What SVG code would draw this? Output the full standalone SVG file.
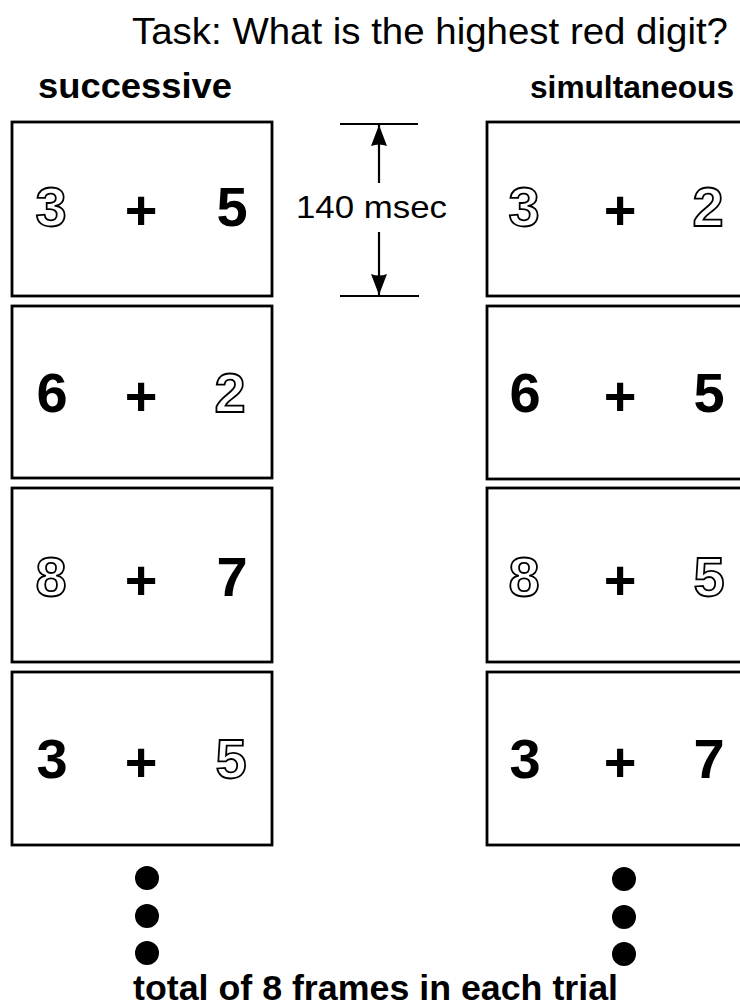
<svg xmlns="http://www.w3.org/2000/svg" width="740" height="1008" viewBox="0 0 740 1008">
<style>
  .t { font-family: "Liberation Sans", Arial, sans-serif; fill: #000; }
  .b { font-weight: bold; }
  .frame { fill: #fff; stroke: #000; stroke-width: 2.8; }
  .dg { font-family: "Liberation Sans", Arial, sans-serif; font-weight: bold; font-size: 56px; text-anchor: middle; }
  .solid { fill: #000; }
  .hollow { fill: #fff; stroke: #000; stroke-width: 1.8; }
  .plus { font-family: "Liberation Sans", Arial, sans-serif; font-weight: bold; font-size: 56px; text-anchor: middle; fill: #000; }
  .dim { stroke: #000; stroke-width: 2.2; fill: none; }
  .dot { fill: #000; }
</style>
<defs>
  <marker id="ah" markerUnits="userSpaceOnUse" markerWidth="22" markerHeight="18" viewBox="0 0 22 18" refX="21" refY="9" orient="auto">
    <path d="M0,1 L21,9 L0,17 Q3,9 0,1 Z" fill="#000"/>
  </marker>
</defs>
<rect width="740" height="1008" fill="#fff"/>

<g id="title">
  <text class="t" x="132" y="44" font-size="37" textLength="596" lengthAdjust="spacingAndGlyphs">Task: What is the highest red digit?</text>
</g>
<g id="label-successive">
  <text class="t b" x="38" y="98" font-size="35" textLength="194" lengthAdjust="spacingAndGlyphs">successive</text>
</g>
<g id="label-simultaneous">
  <text class="t b" x="530" y="98" font-size="32" textLength="204" lengthAdjust="spacingAndGlyphs">simultaneous</text>
</g>

<g id="succ-frame1">
  <rect class="frame" x="12" y="122" width="260" height="174"/>
  <text class="dg hollow" x="51" y="226">3</text>
  <text class="plus" x="141" y="229">+</text>
  <text class="dg solid" x="232" y="226">5</text>
</g>
<g id="succ-frame2">
  <rect class="frame" x="12" y="306" width="260" height="172"/>
  <text class="dg solid" x="52" y="412">6</text>
  <text class="plus" x="141" y="415">+</text>
  <text class="dg hollow" x="230" y="412">2</text>
</g>
<g id="succ-frame3">
  <rect class="frame" x="12" y="488" width="260" height="174"/>
  <text class="dg hollow" x="51" y="596">8</text>
  <text class="plus" x="141" y="599">+</text>
  <text class="dg solid" x="232" y="596">7</text>
</g>
<g id="succ-frame4">
  <rect class="frame" x="12" y="672" width="260" height="173"/>
  <text class="dg solid" x="52" y="778">3</text>
  <text class="plus" x="141" y="781">+</text>
  <text class="dg hollow" x="231" y="778">5</text>
</g>

<g id="sim-frame1">
  <rect class="frame" x="487" y="122" width="280" height="174"/>
  <text class="dg hollow" x="524" y="226">3</text>
  <text class="plus" x="620" y="229">+</text>
  <text class="dg hollow" x="708" y="226">2</text>
</g>
<g id="sim-frame2">
  <rect class="frame" x="487" y="306" width="280" height="173"/>
  <text class="dg solid" x="525" y="412">6</text>
  <text class="plus" x="620" y="415">+</text>
  <text class="dg solid" x="709" y="412">5</text>
</g>
<g id="sim-frame3">
  <rect class="frame" x="487" y="488" width="280" height="174"/>
  <text class="dg hollow" x="524" y="596">8</text>
  <text class="plus" x="620" y="599">+</text>
  <text class="dg hollow" x="709" y="596">5</text>
</g>
<g id="sim-frame4">
  <rect class="frame" x="487" y="672" width="280" height="173"/>
  <text class="dg solid" x="525" y="778">3</text>
  <text class="plus" x="620" y="781">+</text>
  <text class="dg solid" x="709" y="778">7</text>
</g>

<g id="duration">
  <line class="dim" x1="340" y1="124" x2="418" y2="124"/>
  <line class="dim" x1="340" y1="296" x2="419" y2="296"/>
  <text class="t" x="296" y="218" font-size="32" textLength="151" lengthAdjust="spacingAndGlyphs">140 msec</text>
</g>
<g id="connectors">
  <line class="dim" x1="379" y1="183" x2="379" y2="125" marker-end="url(#ah)"/>
  <line class="dim" x1="379" y1="232" x2="379" y2="295" marker-end="url(#ah)"/>
</g>

<g id="ellipsis-left">
  <circle class="dot" cx="147" cy="878" r="12"/>
  <circle class="dot" cx="147" cy="916" r="12"/>
  <circle class="dot" cx="147" cy="953" r="12"/>
</g>
<g id="ellipsis-right">
  <circle class="dot" cx="624" cy="879" r="12"/>
  <circle class="dot" cx="624" cy="917" r="12"/>
  <circle class="dot" cx="624" cy="954" r="12"/>
</g>

<g id="footer">
  <text class="t b" x="133" y="1000" font-size="35" textLength="485" lengthAdjust="spacingAndGlyphs">total of 8 frames in each trial</text>
</g>
</svg>
